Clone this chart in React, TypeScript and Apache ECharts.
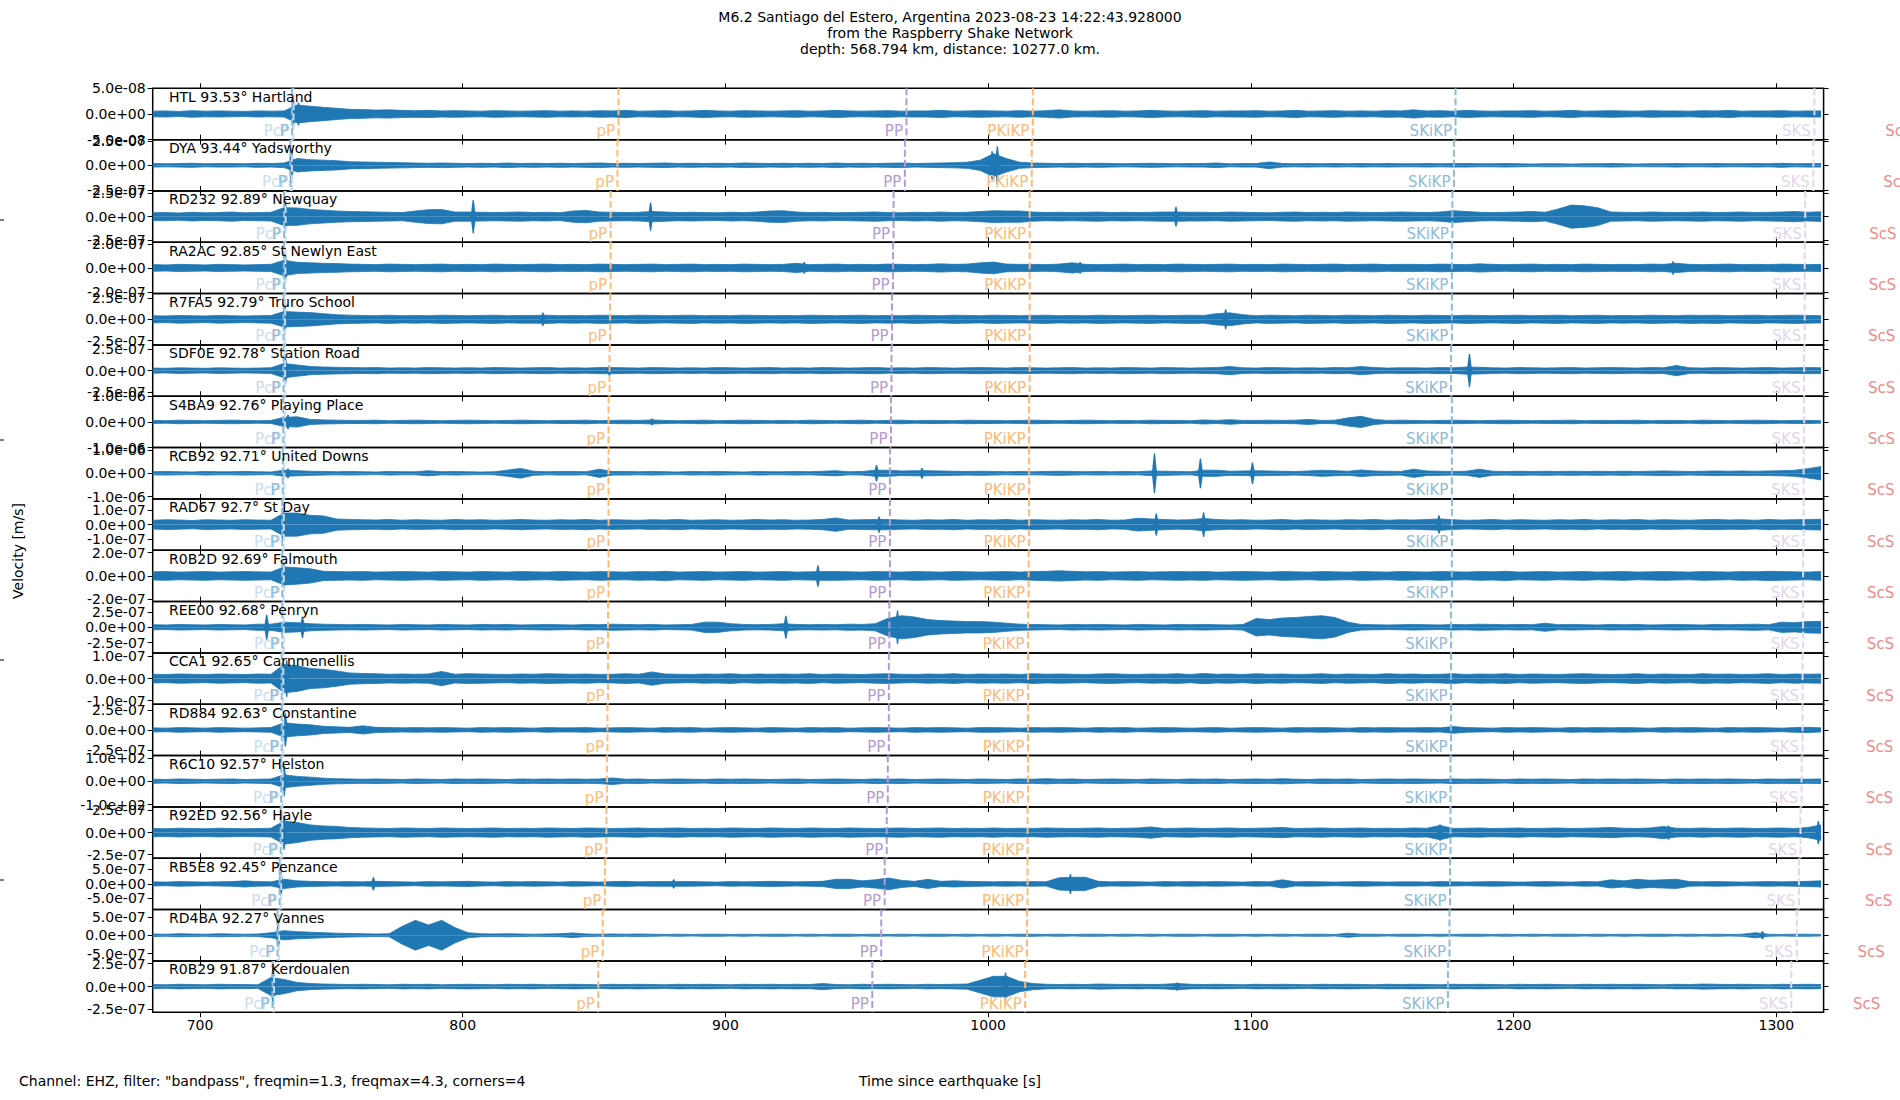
import React, { useEffect, useRef } from "react";
import * as echarts from "echarts";

const FONT = "DejaVu Sans";
const BLUE = "#1f77b4";

const TITLE_LINES = [
  "M6.2 Santiago del Estero, Argentina 2023-08-23 14:22:43.928000",
  "from the Raspberry Shake Network",
  "depth: 568.794 km, distance: 10277.0 km.",
];
const FOOTNOTE = 'Channel: EHZ, filter: "bandpass", freqmin=1.3, freqmax=4.3, corners=4';
const X_LABEL = "Time since earthquake [s]";
const Y_LABEL = "Velocity [m/s]";

const STATIONS = [
  "HTL 93.53° Hartland",
  "DYA 93.44° Yadsworthy",
  "RD232 92.89° Newquay",
  "RA2AC 92.85° St Newlyn East",
  "R7FA5 92.79° Truro School",
  "SDF0E 92.78° Station Road",
  "S4BA9 92.76° Playing Place",
  "RCB92 92.71° United Downs",
  "RAD67 92.7° St Day",
  "R0B2D 92.69° Falmouth",
  "REE00 92.68° Penryn",
  "CCA1 92.65° Carnmenellis",
  "RD884 92.63° Constantine",
  "R6C10 92.57° Helston",
  "R92ED 92.56° Hayle",
  "RB5E8 92.45° Penzance",
  "RD4BA 92.27° Vannes",
  "R0B29 91.87° Kerdoualen",
];

// y tick value (±) and axis half-range per panel
const TICK_VALUES = [5e-8, 2.5e-7, 2.5e-7, 2e-7, 2.5e-7, 2.5e-7, 1e-6, 1e-6, 1e-7, 2e-7, 2.5e-7, 1e-7, 2.5e-7, 1e2, 2.5e-7, 5e-7, 5e-7, 2.5e-7];
const AXIS_LIMITS = [5e-8, 2.62e-7, 2.7e-7, 2.14e-7, 3e-7, 3e-7, 1e-6, 1.1e-6, 1.74e-7, 2.2e-7, 4.2e-7, 1.16e-7, 3.2e-7, 1.1e2, 2.9e-7, 8.85e-7, 7e-7, 2.8e-7];

const X_MIN = 682;
const X_MAX = 1318;
const X_TICKS = [700, 800, 900, 1000, 1100, 1200, 1300];

// envelope samples: every 5 s from 682 s, in percent of the panel's half-range
const TIME_START = 682;
const TIME_STEP = 5;

const HTL_ENV = [
  11,12,10,13,11,12,11,10,12,11,12,35,30,26,22,18,
  17,15,16,14,13,14,12,13,12,11,13,12,11,12,13,11,
  12,11,13,12,14,11,12,13,11,12,14,12,11,13,12,11,
  12,13,11,12,14,12,11,12,13,11,12,12,14,11,12,13,
  12,11,13,11,13,16,12,11,12,13,11,12,14,12,11,12,
  13,11,12,12,13,11,12,14,11,12,13,11,12,11,13,12,
  16,12,13,11,14,12,11,12,12,13,11,12,14,11,12,13,
  12,11,13,12,12,11,13,12,14,11,12,12,13,11,12,12,
];
const DYA_ENV = [
  7,6,7,8,6,7,7,6,8,7,9,26,22,20,18,14,
  13,12,11,10,9,8,9,8,7,8,7,9,7,8,7,8,
  7,8,9,7,8,7,8,9,7,8,7,8,7,9,8,7,
  8,7,8,7,9,7,8,7,8,9,7,8,9,10,12,20,
  45,26,12,9,8,7,8,7,8,7,6,7,8,7,6,7,
  7,9,6,7,7,13,7,6,7,6,7,6,7,6,7,6,
  6,7,6,7,7,6,6,7,6,5,6,6,5,6,6,7,
  6,5,6,6,7,6,6,7,6,6,7,6,8,6,7,7,
];
const RD232_ENV = [
  15,16,14,17,15,16,18,15,16,17,35,34,28,25,22,20,
  19,18,17,16,22,27,28,18,18,17,16,17,18,16,17,15,
  22,24,18,17,16,17,20,18,16,17,16,15,17,16,18,22,
  23,18,16,17,15,16,17,18,16,15,17,16,18,16,17,20,
  23,22,22,18,16,17,16,17,18,16,17,16,17,18,18,17,
  17,16,18,17,16,15,17,18,16,17,16,18,17,16,17,18,
  17,16,18,23,20,17,16,17,18,20,17,30,45,42,35,18,
  17,16,18,17,16,17,18,16,17,18,16,17,18,20,17,19,
];
const RA2AC_ENV = [
  13,12,14,13,12,14,13,12,13,14,30,22,20,18,17,15,
  14,13,15,14,13,14,15,13,14,13,15,14,13,14,15,13,
  14,13,15,14,13,14,15,13,14,15,13,14,13,15,14,13,
  14,18,13,14,15,13,14,13,15,14,13,14,16,14,15,20,
  23,15,14,14,13,15,20,14,13,14,15,13,14,13,15,14,
  13,14,15,13,14,13,15,14,13,14,15,13,14,15,13,14,
  14,13,15,14,13,16,14,13,14,15,13,14,13,15,14,13,
  14,13,15,14,18,14,13,14,15,13,14,13,15,14,13,14,
];
const R7FA5_ENV = [
  14,13,15,14,13,15,14,13,14,15,30,28,26,22,18,16,
  15,14,16,14,15,14,16,15,14,15,16,14,15,15,16,14,
  15,14,16,15,14,16,15,14,15,16,14,15,14,16,15,14,
  15,14,16,15,14,15,16,14,15,14,16,15,14,16,15,14,
  16,15,14,15,16,14,15,14,16,15,14,15,16,14,15,16,
  15,22,25,18,14,16,15,14,16,15,14,16,15,14,16,15,
  14,16,15,14,16,15,14,15,16,14,15,16,14,15,16,14,
  15,14,16,15,14,16,15,16,14,15,16,14,15,16,15,14,
];
const SDF0E_ENV = [
  10,9,11,10,9,11,10,9,10,11,28,22,16,14,13,12,
  11,12,10,11,10,12,11,10,11,10,12,11,10,11,12,10,
  11,10,12,12,11,10,12,11,10,11,10,12,11,10,11,12,
  10,11,10,12,11,10,11,12,10,11,10,12,11,10,11,12,
  11,10,12,11,10,11,12,10,11,10,12,11,10,12,11,10,
  11,12,16,11,10,12,11,10,11,10,12,11,16,12,10,11,
  11,10,12,11,14,13,11,10,12,11,10,11,12,10,11,12,
  11,10,12,11,20,11,10,12,11,10,11,12,10,11,12,11,
];
const S4BA9_ENV = [
  6,5,7,6,5,6,7,6,5,6,18,20,10,8,7,6,
  6,7,5,6,7,6,5,6,7,6,5,6,7,6,5,6,
  6,7,5,6,7,6,8,6,5,6,7,5,6,7,6,5,
  6,5,7,6,5,6,7,5,6,7,5,6,6,5,7,6,
  6,5,6,7,6,5,6,7,6,5,6,5,7,6,6,5,
  8,6,9,6,6,7,6,7,10,6,7,16,22,10,6,7,
  6,5,6,7,6,5,6,7,6,5,6,6,7,5,6,6,
  6,7,5,6,6,5,7,6,5,6,7,6,5,6,6,5,
];
const RCB92_ENV = [
  6,7,6,5,7,6,6,7,6,5,12,10,8,7,6,7,
  6,5,7,6,6,10,6,7,6,5,6,12,19,8,6,7,
  7,6,16,7,7,6,7,6,5,7,6,7,6,5,7,6,
  6,7,6,8,10,6,7,12,12,9,10,10,9,8,7,8,
  7,6,7,6,7,8,7,6,7,6,7,6,9,8,7,6,
  12,12,8,9,10,9,8,7,9,12,10,8,13,9,8,7,
  16,9,8,7,8,16,8,7,8,7,8,7,8,7,8,7,
  8,7,8,9,8,7,8,9,8,9,8,9,10,12,18,26,
];
const RAD67_ENV = [
  17,19,18,16,19,18,17,19,18,17,45,45,36,34,22,20,
  19,18,20,17,19,18,17,20,18,19,17,18,20,18,17,19,
  18,20,17,19,18,17,19,18,20,17,18,19,17,18,20,18,
  19,17,18,20,26,18,19,20,20,18,17,19,18,20,17,19,
  18,20,17,19,18,17,19,18,20,17,18,25,22,20,18,19,
  24,20,18,19,17,18,20,17,19,18,17,19,18,20,17,19,
  18,20,22,19,17,18,20,17,19,18,17,19,18,20,17,19,
  18,20,17,19,18,17,19,20,18,19,17,20,18,19,20,21,
];
const R0B2D_ENV = [
  16,17,15,16,17,15,16,17,16,15,35,32,28,18,17,16,
  17,15,16,17,16,15,17,16,15,17,16,15,17,16,15,17,
  16,15,17,16,15,17,16,18,15,16,17,15,16,17,15,16,
  17,15,16,17,17,16,15,17,16,15,17,16,15,17,16,15,
  16,17,15,17,18,20,18,16,17,15,16,17,15,16,17,16,
  17,15,16,17,16,15,17,16,15,17,16,15,17,16,15,17,
  16,15,17,16,15,17,16,18,15,16,17,15,16,17,15,16,
  17,15,16,17,16,15,17,16,15,17,16,18,17,16,15,17,
];
const REE00_ENV = [
  10,9,11,10,9,11,10,9,12,12,20,18,14,12,11,10,
  11,10,9,11,10,9,11,10,9,11,10,11,9,10,11,10,
  9,11,10,12,11,10,11,9,10,11,20,20,14,11,10,11,
  14,11,10,11,10,12,11,14,35,45,40,30,26,24,22,22,
  20,16,12,11,10,9,11,10,11,10,9,11,10,9,11,10,
  11,10,9,11,34,30,36,38,42,45,38,20,11,10,9,10,
  11,10,9,11,10,12,11,10,11,10,16,10,11,10,9,11,
  10,11,9,10,11,10,9,11,10,11,12,10,20,18,22,23,
];
const CCA1_ENV = [
  17,16,18,17,16,18,17,16,18,17,55,50,39,36,30,22,
  20,19,17,18,17,18,28,17,19,18,17,16,18,17,19,18,
  17,18,16,17,19,17,26,18,17,16,18,17,19,16,18,17,
  18,17,19,16,18,17,16,18,19,17,16,18,17,19,16,18,
  17,18,16,19,17,18,17,16,18,19,17,16,18,17,19,16,
  20,17,18,16,19,17,18,16,17,19,16,18,17,16,19,17,
  18,16,17,19,16,18,17,19,16,18,17,16,18,19,17,16,
  17,19,16,18,17,16,19,17,18,16,17,19,16,18,17,18,
];
const RD884_ENV = [
  8,7,9,8,7,9,8,7,8,9,28,23,20,14,12,10,
  16,10,9,8,9,8,9,8,7,9,8,9,8,7,9,8,
  8,9,7,8,9,8,7,9,8,9,7,8,9,8,7,9,
  8,7,9,8,9,7,8,9,8,7,9,8,9,8,7,9,
  9,8,7,9,8,9,8,7,9,8,9,7,8,9,8,7,
  8,9,7,8,9,8,7,9,8,9,8,7,9,8,9,8,
  8,9,8,13,9,8,7,9,8,9,8,7,9,8,9,8,
  9,8,7,9,8,9,8,7,9,8,9,8,7,9,10,8,
];
const R6C10_ENV = [
  8,7,9,8,7,8,9,7,8,9,25,19,16,12,10,9,
  8,9,8,7,9,8,7,9,8,9,8,7,9,8,9,8,
  9,8,9,13,8,9,7,8,9,8,7,9,8,9,8,7,
  8,9,7,8,9,8,7,9,8,9,7,8,9,8,7,9,
  8,7,9,8,10,8,9,7,8,9,8,7,9,8,7,9,
  8,9,7,8,9,8,10,8,7,9,8,9,7,8,9,8,
  9,8,7,9,8,9,8,7,9,8,9,8,7,9,8,9,
  8,9,8,7,9,8,9,8,9,8,7,9,8,9,8,9,
];
const R92ED_ENV = [
  16,15,17,16,15,17,16,15,16,17,45,39,30,26,24,20,
  18,17,16,18,17,16,18,17,16,17,18,16,17,16,18,17,
  16,18,17,16,17,18,16,17,18,16,17,16,18,17,16,18,
  17,16,18,17,16,18,17,16,17,18,16,17,18,16,17,16,
  18,16,17,16,18,17,16,17,18,16,17,18,22,16,17,18,
  16,17,18,16,17,18,20,16,17,18,16,17,18,16,17,16,
  18,17,28,16,17,18,16,17,18,16,17,18,16,17,18,20,
  17,16,18,24,17,16,18,16,17,18,16,17,18,16,20,30,
];
const RB5E8_ENV = [
  8,7,9,8,7,8,9,12,9,8,18,12,10,9,8,9,
  8,10,9,8,7,9,8,9,10,8,7,9,8,9,8,7,
  9,8,7,9,10,8,9,9,9,9,8,7,9,8,9,10,
  9,8,9,10,18,18,12,16,23,14,10,18,10,12,10,9,
  8,9,8,9,8,24,26,26,10,8,9,8,7,9,8,9,
  8,9,8,7,9,8,16,8,9,8,7,8,9,8,7,8,
  8,7,9,8,7,8,9,8,7,8,9,8,7,9,8,16,
  12,18,14,16,18,9,8,9,8,7,8,9,8,9,10,12,
];
const RD4BA_ENV = [
  5,4,6,5,4,6,5,4,5,10,18,14,12,10,8,7,
  6,5,6,35,58,40,58,30,10,6,5,6,5,4,5,6,
  9,5,4,5,4,5,4,3,4,3,4,4,3,4,3,4,
  4,3,4,3,4,4,3,4,3,4,3,4,4,3,4,3,
  4,3,4,4,3,4,3,4,4,3,4,3,4,3,4,4,
  3,4,4,3,4,3,4,3,4,4,3,8,4,4,3,4,
  4,3,4,3,4,4,3,4,3,4,3,4,4,3,4,3,
  4,3,4,4,3,4,3,4,3,4,10,4,3,4,4,3,
];
const R0B29_ENV = [
  8,7,9,8,7,9,8,8,7,35,28,16,12,10,9,8,
  9,8,7,9,8,9,7,8,9,8,7,9,8,9,7,8,
  9,8,7,9,8,9,8,7,9,8,9,8,7,9,8,9,
  8,9,8,12,8,7,9,8,9,8,7,9,8,9,10,25,
  40,40,20,12,9,8,9,8,10,9,8,9,8,9,12,9,
  8,9,8,7,9,8,9,8,7,9,8,9,8,7,9,8,
  9,8,7,9,8,9,8,7,9,8,9,8,7,9,8,9,
  8,9,8,7,9,8,10,9,8,9,8,7,9,8,9,8,
];

const ENVELOPES = [
  HTL_ENV, DYA_ENV, RD232_ENV, RA2AC_ENV, R7FA5_ENV, SDF0E_ENV,
  S4BA9_ENV, RCB92_ENV, RAD67_ENV, R0B2D_ENV, REE00_ENV, CCA1_ENV,
  RD884_ENV, R6C10_ENV, R92ED_ENV, RB5E8_ENV, RD4BA_ENV, R0B29_ENV,
];

// impulsive peaks: [time s, peak amplitude in percent of half-range]
const HTL_SPIKES = [[735.5, 58], [737.5, 45]];
const DYA_SPIKES = [[734.8, 68], [1001.5, 55], [1003.5, 74]];
const RD232_SPIKES = [[732.5, 58], [804, 65], [871.5, 55], [1071.5, 38]];
const RA2AC_SPIKES = [[732.5, 55], [930, 23], [1035, 23], [1260.7, 26]];
const R7FA5_SPIKES = [[732.3, 60], [830.5, 26], [1090.4, 39]];
const SDF0E_SPIKES = [[732.5, 55], [855.8, 20], [1183.2, 65]];
const S4BA9_SPIKES = [[733.5, 28], [872, 13]];
const RCB92_SPIKES = [[733.5, 19], [957.5, 32], [974.8, 21], [1063.3, 77], [1080.8, 58], [1100.6, 42]];
const RAD67_SPIKES = [[731.5, 65], [958.5, 32], [1064, 43], [1082, 48], [1171.6, 36]];
const R0B2D_SPIKES = [[732, 49], [935.2, 42]];
const REE00_SPIKES = [[725.4, 49], [739, 42], [923, 45], [965.5, 65]];
const CCA1_SPIKES = [[733, 71]];
const RD884_SPIKES = [[732.5, 65]];
const R6C10_SPIKES = [[732, 58]];
const R92ED_SPIKES = [[732, 67], [1172, 32], [1259, 28], [1316, 45]];
const RB5E8_SPIKES = [[730.8, 47], [766, 26], [880.3, 18], [1031.3, 39]];
const RD4BA_SPIKES = [[729.8, 48], [1294.7, 16]];
const R0B29_SPIKES = [[727.8, 71], [1006.6, 55], [1072, 16]];

const SPIKES = [
  HTL_SPIKES, DYA_SPIKES, RD232_SPIKES, RA2AC_SPIKES, R7FA5_SPIKES, SDF0E_SPIKES,
  S4BA9_SPIKES, RCB92_SPIKES, RAD67_SPIKES, R0B2D_SPIKES, REE00_SPIKES, CCA1_SPIKES,
  RD884_SPIKES, R6C10_SPIKES, R92ED_SPIKES, RB5E8_SPIKES, RD4BA_SPIKES, R0B29_SPIKES,
];

// phase arrival times (s) per panel
const PCP_TIMES = [735.6, 735.0, 732.6, 732.5, 732.4, 732.4, 732.3, 732.1, 731.9, 731.9, 731.9, 731.7, 731.7, 731.5, 731.3, 730.9, 730.1, 728.2];
const P_TIMES = [735.0, 734.4, 732.0, 731.9, 731.8, 731.8, 731.7, 731.5, 731.3, 731.3, 731.3, 731.1, 731.1, 730.9, 730.7, 730.3, 729.5, 727.6];
const LOWER_PP_TIMES = [859.3, 858.9, 856.3, 856.3, 856.1, 855.9, 855.5, 855.5, 855.5, 855.5, 855.3, 855.3, 855.1, 854.9, 854.7, 854.1, 853.3, 851.6];
const PP_TIMES = [968.9, 968.3, 964.0, 963.8, 963.4, 963.2, 963.0, 962.6, 962.6, 962.6, 962.4, 962.2, 962.2, 961.8, 961.4, 960.6, 959.3, 955.9];
const PKIKP_TIMES = [1017.0, 1016.6, 1015.8, 1015.8, 1015.8, 1015.8, 1015.6, 1015.6, 1015.6, 1015.4, 1015.2, 1015.2, 1015.2, 1015.2, 1015.0, 1015.0, 1014.8, 1014.1];
const SKIKP_TIMES = [1177.9, 1177.3, 1176.7, 1176.5, 1176.5, 1176.2, 1176.5, 1176.5, 1176.5, 1176.5, 1176.2, 1176.2, 1176.2, 1176.0, 1176.0, 1175.8, 1175.6, 1175.0];
const SKS_TIMES = [1314.5, 1314.1, 1311.0, 1310.8, 1310.8, 1310.6, 1310.6, 1310.4, 1310.4, 1310.2, 1310.2, 1310.0, 1310.0, 1309.6, 1309.2, 1308.6, 1307.8, 1305.7];
const SCS_TIMES = [1353.2, 1352.4, 1347.1, 1346.9, 1346.6, 1346.6, 1346.5, 1346.3, 1346.2, 1346.2, 1346.1, 1346.0, 1345.9, 1345.8, 1345.7, 1345.5, 1342.6, 1340.9];

const PHASE_NAMES = ["PcP", "P", "pP", "PP", "PKiKP", "SKiKP", "SKS", "ScS"];
const PHASE_COLORS = ["#c9ddef", "#8fbbd9", "#ffbb78", "#b49ad2", "#ffb877", "#8fbbd9", "#e2d6ec", "#f08a8a"];
const PHASE_DASH_OFFSET = [5, 0, 0, 0, 0, 0, 0, 0];
const PHASE_TIMES = [PCP_TIMES, P_TIMES, LOWER_PP_TIMES, PP_TIMES, PKIKP_TIMES, SKIKP_TIMES, SKS_TIMES, SCS_TIMES];

// layout
const GRID_LEFT = 152.7;
const GRID_WIDTH = 1670.9;
const PANEL_TOP = 88.3;
const PANEL_H = 51.33;

function sci(v: number): string {
  if (v === 0) return "0.0e+00";
  const s = v.toExponential(1);
  const parts = s.split("e");
  const exp = parts[1];
  const sign = exp[0] === "-" ? "-" : "+";
  const digits = exp.replace(/[+-]/, "").padStart(2, "0");
  return parts[0] + "e" + sign + digits;
}

function buildOption(): any {
  const grids: any[] = [];
  const xAxes: any[] = [];
  const yAxes: any[] = [];
  const series: any[] = [];
  const graphics: any[] = [];
  const n = STATIONS.length;

  for (let k = 0; k < n; k++) {
    const top = PANEL_TOP + k * PANEL_H;
    const lim = AXIS_LIMITS[k];
    const a = TICK_VALUES[k];
    const last = k === n - 1;
    grids.push({
      left: GRID_LEFT, top, width: GRID_WIDTH, height: PANEL_H,
      show: true, borderColor: "#000", borderWidth: 1.5, backgroundColor: "transparent",
    });
    const xBase = {
      type: "value", gridIndex: k, min: X_MIN, max: X_MAX,
      axisLine: { show: false, onZero: false }, splitLine: { show: false },
      axisTick: { show: true, length: 5, customValues: X_TICKS, lineStyle: { color: "#000", width: 1 } },
    };
    xAxes.push({
      ...xBase, position: "bottom",
      axisLabel: {
        show: last, customValues: X_TICKS, fontSize: 14, color: "#000", fontFamily: FONT, margin: 6,
        formatter: (v: number) => String(v),
      },
    });
    xAxes.push({ ...xBase, position: "top", axisLabel: { show: false } });
    const yBase = {
      type: "value", gridIndex: k, min: -lim, max: lim,
      axisLine: { show: false, onZero: false }, splitLine: { show: false },
      axisTick: { show: true, length: 5, customValues: [-a, 0, a], lineStyle: { color: "#000", width: 1 } },
    };
    yAxes.push({
      ...yBase, position: "left",
      axisLabel: {
        show: true, customValues: [-a, 0, a], formatter: (v: number) => sci(v),
        fontSize: 14, color: "#000", fontFamily: FONT, margin: 7,
        showMinLabel: true, showMaxLabel: true,
      },
    });
    yAxes.push({ ...yBase, position: "right", axisLabel: { show: false } });

    const env = ENVELOPES[k];
    const upper = env.map((e, i) => [TIME_START + i * TIME_STEP, (e / 100) * lim]);
    const lower = env.map((e, i) => [TIME_START + i * TIME_STEP, (-e / 100) * lim]);
    const lineBase = {
      type: "line", xAxisIndex: 2 * k, yAxisIndex: 2 * k, symbol: "none", showSymbol: false,
      silent: true, z: 2, lineStyle: { color: BLUE, width: 0.8 },
      areaStyle: { color: BLUE, opacity: 1, origin: "auto" },
    };
    series.push({ ...lineBase, data: upper });
    series.push({ ...lineBase, data: lower });

    // narrow impulsive peaks
    series.push({
      type: "custom", xAxisIndex: 2 * k, yAxisIndex: 2 * k, clip: true, silent: true, z: 3,
      encode: { x: 0, y: 1 },
      data: SPIKES[k].map(([t, p]) => [t, (p / 100) * lim]),
      renderItem: (params: any, api: any) => {
        const t = api.value(0);
        const v = api.value(1);
        const pTop = api.coord([t, v]);
        const pBot = api.coord([t, -v]);
        const p0 = api.coord([t, 0]);
        const w = 2.6;
        return {
          type: "polygon",
          shape: { points: [[pTop[0] - w, p0[1]], [pTop[0] - 0.6, pTop[1]], [pTop[0] + 0.6, pTop[1]], [pTop[0] + w, p0[1]], [pTop[0] + 0.6, pBot[1]], [pTop[0] - 0.6, pBot[1]]] },
          style: { fill: BLUE },
        };
      },
    });

    series.push({
      type: "custom", xAxisIndex: 2 * k, yAxisIndex: 2 * k, clip: false, silent: true, z: 5,
      encode: { x: 0, y: 1 },
      data: PHASE_NAMES.map((_, j) => [PHASE_TIMES[j][k], 0, j]),
      renderItem: (params: any, api: any) => {
        const t = api.value(0);
        const j = api.value(2);
        const cs = params.coordSys;
        const x = api.coord([t, 0])[0];
        const bottom = cs.y + cs.height;
        const children: any[] = [];
        if (x <= cs.x + cs.width) {
          children.push({
            type: "line",
            shape: { x1: x, y1: cs.y, x2: x, y2: bottom },
            style: { stroke: PHASE_COLORS[j], lineWidth: 2, lineDash: [7, 3], lineDashOffset: PHASE_DASH_OFFSET[j] },
          });
        }
        children.push({
          type: "text", x: x - 3.5, y: bottom - 8.5,
          style: {
            text: PHASE_NAMES[j], fill: PHASE_COLORS[j], fontSize: 15, fontFamily: FONT,
            align: "right", verticalAlign: "middle",
          },
        });
        return { type: "group", children };
      },
    });

    graphics.push({
      type: "text", x: 169, y: top + 1.5, z: 10,
      style: { text: STATIONS[k], fill: "#000", fontSize: 14, fontFamily: FONT, align: "left", verticalAlign: "top" },
    });
  }

  const titleY = [16.5, 32.5, 48.5];
  TITLE_LINES.forEach((line, i) => {
    graphics.push({
      type: "text", x: 950, y: titleY[i],
      style: { text: line, fill: "#000", fontSize: 14, fontFamily: FONT, align: "center", verticalAlign: "middle" },
    });
  });
  graphics.push({
    type: "text", x: 19, y: 1081,
    style: { text: FOOTNOTE, fill: "#000", fontSize: 14, fontFamily: FONT, align: "left", verticalAlign: "middle" },
  });
  graphics.push({
    type: "text", x: 950, y: 1081,
    style: { text: X_LABEL, fill: "#000", fontSize: 14, fontFamily: FONT, align: "center", verticalAlign: "middle" },
  });
  graphics.push({
    type: "text", x: 18, y: 551, rotation: Math.PI / 2,
    style: { text: Y_LABEL, fill: "#000", fontSize: 14, fontFamily: FONT, align: "center", verticalAlign: "middle" },
  });
  [220, 440, 660, 880].forEach((y) => {
    graphics.push({ type: "line", shape: { x1: 0, y1: y, x2: 4, y2: y }, style: { stroke: "#000", lineWidth: 1 } });
  });

  return {
    animation: false,
    backgroundColor: "#fff",
    grid: grids,
    xAxis: xAxes,
    yAxis: yAxes,
    series,
    graphic: graphics,
  };
}

export default function App() {
  const ref = useRef<HTMLDivElement>(null);
  useEffect(() => {
    if (!ref.current) return;
    const chart = echarts.init(ref.current, undefined, { renderer: "svg" });
    chart.setOption(buildOption());
    return () => chart.dispose();
  }, []);
  return (
    <div
      ref={ref}
      style={{ position: "absolute", left: 0, top: 0, width: 1900, height: 1100, background: "#fff" }}
    />
  );
}
